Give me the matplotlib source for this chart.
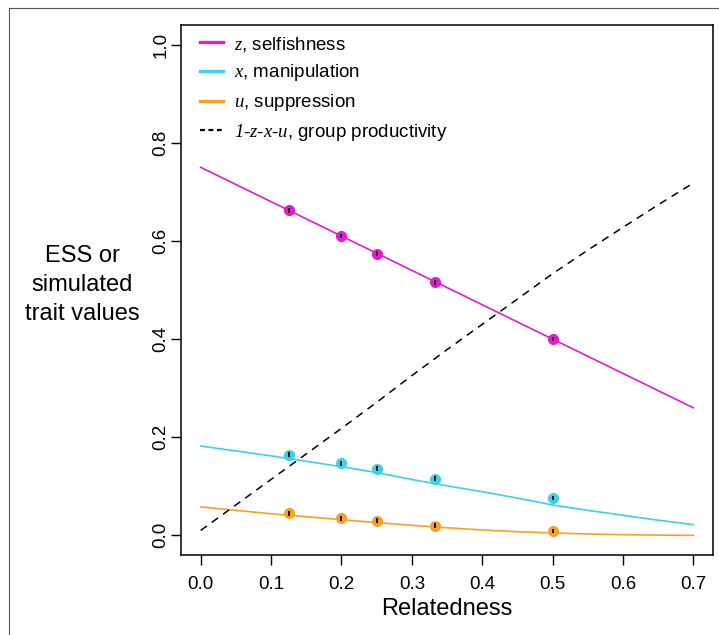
import matplotlib
matplotlib.use("Agg")
import numpy as np
import matplotlib.pyplot as plt
from matplotlib.lines import Line2D

plt.rcParams["font.family"] = ["Liberation Sans", "DejaVu Sans"]
plt.rcParams["mathtext.fontset"] = "custom"
plt.rcParams["mathtext.it"] = "Liberation Serif:italic"
plt.rcParams["mathtext.rm"] = "Liberation Serif:italic"

# model curves (ESS), sampled along relatedness
r_curve = [0.0, 0.05, 0.1, 0.15, 0.2, 0.25, 0.3, 0.35, 0.4, 0.45, 0.5, 0.55, 0.6, 0.65, 0.7]
z_curve = [0.750, 0.715, 0.680, 0.645, 0.610, 0.575, 0.540, 0.505, 0.470, 0.435, 0.400,
           0.365, 0.330, 0.295, 0.260]
x_curve = [0.182, 0.172, 0.162, 0.151, 0.140, 0.128, 0.114, 0.101, 0.089, 0.076, 0.062,
           0.051, 0.041, 0.031, 0.022]
u_curve = [0.058, 0.051, 0.044, 0.038, 0.032, 0.026, 0.0205, 0.0155, 0.0110, 0.0075, 0.0048,
           0.0028, 0.0014, 0.0005, 0.0]

# simulation results
r_sim = [0.125, 0.2, 0.25, 1 / 3, 0.5]
z_sim = [0.662, 0.610, 0.574, 0.516, 0.400]
x_sim = [0.164, 0.147, 0.136, 0.115, 0.077]
u_sim = [0.045, 0.035, 0.030, 0.020, 0.0095]
sim_err = [0.005, 0.005, 0.005, 0.005, 0.004]

MAGENTA = "#e41ccc"
CYAN = "#3ed0e6"
ORANGE = "#f7a023"

fig = plt.figure(figsize=(7.19, 6.35), dpi=100)
ax = fig.add_axes([181 / 719, 1 - 555 / 635, 532 / 719, 530 / 635])

prod = 1 - np.array(z_curve) - np.array(x_curve) - np.array(u_curve)

ax.plot(r_curve, z_curve, color=MAGENTA, lw=1.2)
ax.plot(r_curve, x_curve, color=CYAN, lw=1.2)
ax.plot(r_curve, u_curve, color=ORANGE, lw=1.2)
ax.plot(r_curve, prod, color="black", lw=1.1, ls=(0, (5, 4)))

for sim, col in [(z_sim, MAGENTA), (x_sim, CYAN), (u_sim, ORANGE)]:
    ax.plot(r_sim, sim, "o", color=col, ms=7, mec=col, zorder=3)
    ax.errorbar(r_sim, sim, yerr=sim_err, fmt="none", ecolor="black",
                elinewidth=1.3, capsize=0, zorder=4)

ax.set_xlim(-0.028, 0.728)
ax.set_ylim(-0.04, 1.04)
ax.set_xticks([0.0, 0.1, 0.2, 0.3, 0.4, 0.5, 0.6, 0.7])
ax.set_yticks([0.0, 0.2, 0.4, 0.6, 0.8, 1.0])
ax.set_xticklabels(["0.0", "0.1", "0.2", "0.3", "0.4", "0.5", "0.6", "0.7"])
ax.set_yticklabels(["0.0", "0.2", "0.4", "0.6", "0.8", "1.0"], rotation=90, va="center")
ax.tick_params(direction="out", length=7, width=1, labelsize=13.5, colors="black")
ax.tick_params(axis="x", pad=8)
ax.tick_params(axis="y", pad=1.5)
for sp in ax.spines.values():
    sp.set_linewidth(1.1)

handles = [
    Line2D([], [], color=MAGENTA, lw=2.4),
    Line2D([], [], color=CYAN, lw=2.4),
    Line2D([], [], color=ORANGE, lw=2.4),
    Line2D([], [], color="black", lw=1.6, ls=(0, (2.2, 1.6))),
]
labels = [
    r"$z$, selfishness",
    r"$x$, manipulation",
    r"$u$, suppression",
    r"$1\text{-}z\text{-}x\text{-}u$, group productivity",
]
ax.legend(handles, labels, loc="upper left", bbox_to_anchor=(0.036, 0.982),
          frameon=False, fontsize=13.5, handlelength=1.2, handletextpad=0.6,
          labelspacing=0.47, borderpad=0, borderaxespad=0)

fig.text(447 / 719, 1 - 609 / 635, "Relatedness", ha="center", va="center", fontsize=17)
fig.text(82 / 719, 1 - 285 / 635, "ESS or\nsimulated\ntrait values", ha="center",
         va="center", multialignment="center", fontsize=17, linespacing=1.42)

# thin border round the panel
fig.add_artist(Line2D([9 / 719, 9 / 719], [0, 1 - 8 / 635], color="#555555", lw=0.8))
fig.add_artist(Line2D([9 / 719, 1], [1 - 8 / 635, 1 - 8 / 635], color="#555555", lw=0.8))

fig.savefig("out.png", dpi=100)
